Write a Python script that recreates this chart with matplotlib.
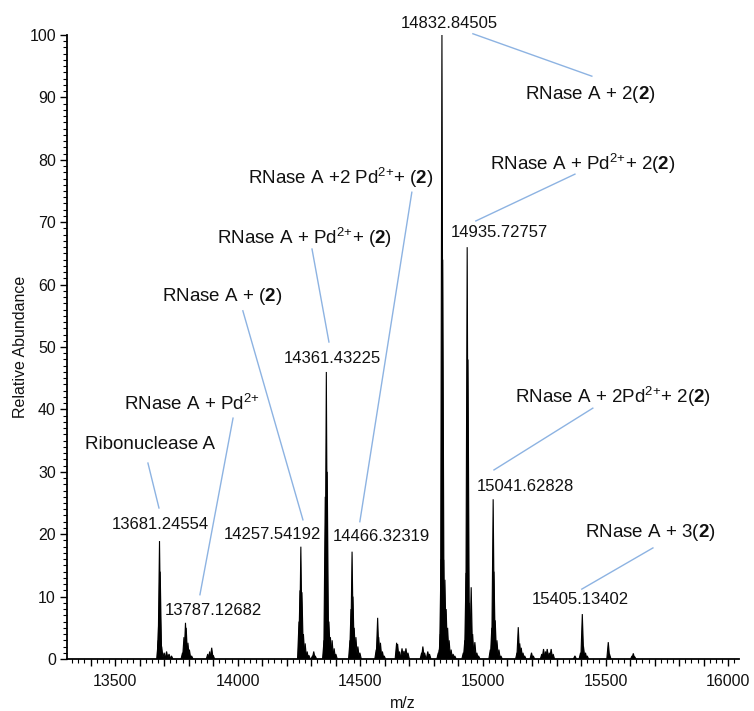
"""Deconvoluted ESI-MS spectrum of RNase A with Pd/(2) adducts."""
import matplotlib
matplotlib.use("Agg")
import matplotlib.pyplot as plt
from matplotlib.ticker import MultipleLocator, FuncFormatter

plt.rcParams["font.family"] = ["Liberation Sans", "DejaVu Sans"]
plt.rcParams["mathtext.fontset"] = "custom"
plt.rcParams["mathtext.rm"] = "Liberation Sans"
plt.rcParams["mathtext.bf"] = "Liberation Sans:bold"

# ── Spectrum sticks (m/z, relative abundance) ─────────────────────────────────
peak_mz = [
    13676, 13678, 13681.2, 13684, 13690, 13700, 13710, 13720, 13730,
    13775, 13781, 13787.1, 13790, 13797, 13803, 13812,
    13878, 13886, 13894, 13900,
    14250, 14254, 14257.5, 14262, 14268, 14275, 14283, 14290,
    14305, 14310, 14316,
    14352, 14357, 14361.4, 14365, 14372, 14378, 14385, 14393, 14400,
    14458, 14462, 14466.3, 14470, 14475, 14482, 14490, 14498,
    14565, 14570.6, 14575, 14582, 14590, 14597,
    14648, 14652, 14660, 14670, 14678, 14686, 14694,
    14750, 14755, 14762, 14775, 14782,
    14818, 14822, 14826, 14829, 14832.8, 14836, 14840, 14845, 14850,
    14856, 14862, 14870, 14878, 14885,
    14920, 14926, 14931, 14935.7, 14939, 14944, 14952, 14958, 14967,
    14975, 14982,
    15030, 15036, 15041.6, 15045, 15050, 15057, 15065, 15073,
    15139, 15144, 15150, 15156, 15163, 15170,
    15198, 15205,
    15240, 15247, 15255, 15262, 15270, 15278, 15286,
    15375, 15398, 15405.1, 15410, 15418, 15425,
    15511, 15516,
    15608, 15613, 15618,
]
peak_int = [
    3, 6, 18.9, 14, 2, 1.0, 1.2, 0.8, 0.5,
    1.0, 3.5, 5.8, 5.0, 2.6, 1.5, 0.5,
    0.8, 1.2, 1.8, 0.6,
    6, 11, 18, 10.7, 4, 2.5, 1.2, 0.6,
    0.5, 1.2, 0.5,
    3, 26, 46, 30, 6, 3.5, 3, 1.7, 0.8,
    3, 8, 17.2, 10, 5, 3.5, 2, 1,
    1.5, 6.6, 3.5, 2.6, 1.2, 0.5,
    2.6, 2.4, 1.2, 1.7, 1.3, 1.7, 1.0,
    1.0, 2.0, 1.0, 1.2, 0.8,
    1.0, 1.5, 4, 16, 100, 64, 15.9, 12.7, 8,
    5, 3, 1.5, 0.8, 0.5,
    1, 3, 13.8, 66, 48, 9, 11.5, 4, 2.7,
    1, 0.5,
    1.5, 5, 25.6, 14, 6.2, 3, 1.5, 0.5,
    1, 5.1, 2.5, 1.8, 1, 0.5,
    1.0, 0.5,
    0.8, 1.6, 1.2, 1.6, 1.0, 1.6, 0.8,
    0.5, 1.0, 7.2, 2, 1, 0.5,
    2.7, 0.8,
    0.5, 0.9, 0.4,
]

# labelled apex masses
label_mz = [13681.24554, 13787.12682, 14257.54192, 14361.43225, 14466.32319,
            14832.84505, 14935.72757, 15041.62828, 15405.13402]

species = [
    "Ribonuclease A",
    r"RNase A + Pd$^{2{+}}$",
    r"RNase A + ($\mathbf{2}$)",
    r"RNase A + Pd$^{2{+}}$+ ($\mathbf{2}$)",
    r"RNase A +2 Pd$^{2{+}}$+ ($\mathbf{2}$)",
    r"RNase A + 2($\mathbf{2}$)",
    r"RNase A + Pd$^{2{+}}$+ 2($\mathbf{2}$)",
    r"RNase A + 2Pd$^{2{+}}$+ 2($\mathbf{2}$)",
    r"RNase A + 3($\mathbf{2}$)",
]

# ── Layout (data coords) ──────────────────────────────────────────────────────
label_pos = [(13683, 21.6), (13899, 7.7), (14140, 20.0), (14388, 48.1),
             (14584, 19.6), (14861, 101.9), (15065, 68.3), (15171, 27.6),
             (15399, 9.5)]
species_pos = [(13642, 34.3), (13814, 41.0), (13936, 58.1), (14274, 67.6),
               (14421, 77.2), (15436, 90.5), (15408, 79.4), (15530, 42.1),
               (15681, 20.2)]
# leader lines: species text -> m/z label
leader = [((13634, 31.4), (13679, 24.2)),
          ((13981, 38.6), (13846, 10.3)),
          ((14021, 55.8), (14266, 22.3)),
          ((14303, 65.7), (14372, 50.8)),
          ((14710, 74.8), (14498, 22.0)),
          ((15444, 93.4), (14959, 100.2)),
          ((15375, 77.7), (14971, 70.2)),
          ((15448, 40.2), (15045, 30.3)),
          ((15693, 17.8), (15403, 11.2))]

HALF_W = 6            # triangle half-width of a stick, m/z units
LINE_CLR = "#8db3e2"
TXT = "#111111"

fig = plt.figure(figsize=(7.54, 7.11), dpi=100)
ax = fig.add_axes([67 / 754, 1 - 659 / 711, 672 / 754, 624 / 711])

for mz, inten in zip(peak_mz, peak_int):
    ax.fill([mz - HALF_W, mz, mz + HALF_W], [0, inten, 0],
            facecolor="black", edgecolor="black", lw=0.8)

for mz, (tx, ty) in zip(label_mz, label_pos):
    ax.text(tx, ty, f"{mz:.5f}", ha="center", va="center", fontsize=12,
            color=TXT, clip_on=False)

for name, (tx, ty) in zip(species, species_pos):
    ax.text(tx, ty, name, ha="center", va="center", fontsize=13.5,
            color=TXT, clip_on=False)

for (x1, y1), (x2, y2) in leader:
    ax.plot([x1, x2], [y1, y2], color=LINE_CLR, lw=1.0, clip_on=False)

ax.set_xlim(13304, 16044)
ax.set_ylim(0, 100)

for s in ("top", "right"):
    ax.spines[s].set_visible(False)
for s in ("left", "bottom"):
    ax.spines[s].set_linewidth(1.3)

ax.xaxis.set_major_locator(MultipleLocator(100))
ax.xaxis.set_minor_locator(MultipleLocator(25))
ax.xaxis.set_major_formatter(
    FuncFormatter(lambda v, p: f"{v:.0f}" if round(v) % 500 == 0 else ""))
ax.yaxis.set_major_locator(MultipleLocator(10))
ax.yaxis.set_minor_locator(MultipleLocator(1))

ax.tick_params(axis="both", which="major", length=5, width=1.0,
               labelsize=11.5, labelcolor=TXT)
ax.tick_params(axis="x", which="major", pad=6)
ax.tick_params(axis="y", which="major", pad=3)
ax.tick_params(axis="both", which="minor", length=3, width=0.8)

ax.set_xlabel("m/z", fontsize=11.5, color=TXT, labelpad=5)
ax.set_ylabel("Relative Abundance", fontsize=11.5, color=TXT, labelpad=1)

fig.savefig("out.png", dpi=100)
